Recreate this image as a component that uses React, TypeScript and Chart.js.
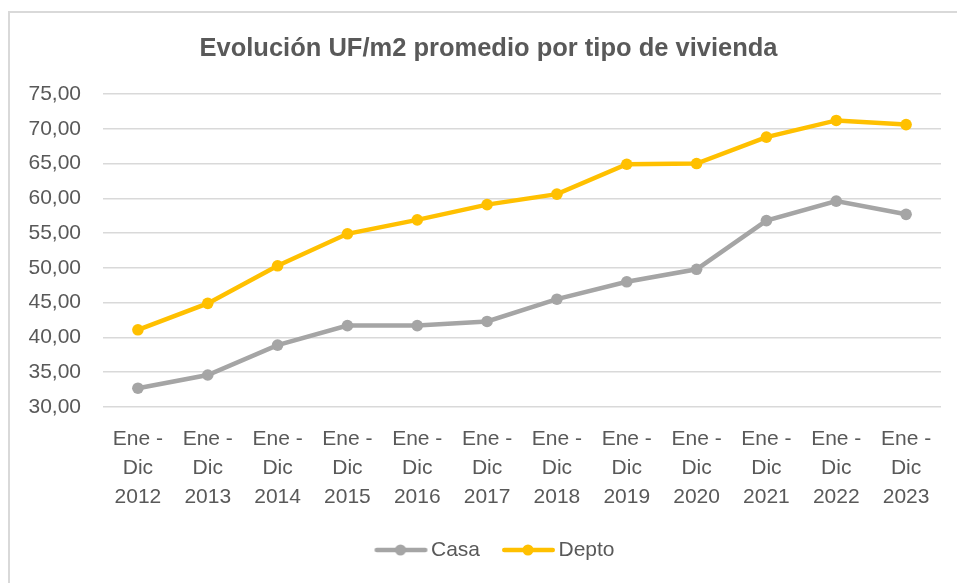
import React, { useEffect, useRef } from "react";
import { Chart, registerables } from "chart.js";

Chart.register(...registerables);

const categories: string[][] = [
  ["Ene -", "Dic", "2012"],
  ["Ene -", "Dic", "2013"],
  ["Ene -", "Dic", "2014"],
  ["Ene -", "Dic", "2015"],
  ["Ene -", "Dic", "2016"],
  ["Ene -", "Dic", "2017"],
  ["Ene -", "Dic", "2018"],
  ["Ene -", "Dic", "2019"],
  ["Ene -", "Dic", "2020"],
  ["Ene -", "Dic", "2021"],
  ["Ene -", "Dic", "2022"],
  ["Ene -", "Dic", "2023"],
];

const casa: number[] = [32.7, 34.6, 38.9, 41.7, 41.7, 42.3, 45.5, 48.0, 49.8, 56.8, 59.6, 57.7];
const depto: number[] = [41.1, 44.9, 50.3, 54.9, 56.9, 59.1, 60.6, 64.9, 65.0, 68.8, 71.2, 70.6];

const title = "Evolución UF/m2 promedio por tipo de vivienda";
const seriesNames = ["Casa", "Depto"];
const seriesColors = ["#a5a5a5", "#ffc000"];
const yMin = 30;
const yMax = 75;
const yStep = 5;

const TEXT = "#595959";
const FONT = "'Liberation Sans', Arial, sans-serif";

function legendImage(color: string): HTMLCanvasElement {
  const c = document.createElement("canvas");
  c.width = 62;
  c.height = 14;
  const ctx = c.getContext("2d")!;
  ctx.strokeStyle = color;
  ctx.lineWidth = 4.5;
  ctx.lineCap = "round";
  ctx.beginPath();
  ctx.moveTo(10.25, 7);
  ctx.lineTo(58.75, 7);
  ctx.stroke();
  ctx.fillStyle = color;
  ctx.beginPath();
  ctx.arc(34, 7, 5.5, 0, Math.PI * 2);
  ctx.fill();
  return c;
}

const boxShift = {
  id: "boxShift",
  afterLayout(chart: any) {
    if (chart.legend) {
      chart.legend.left += 24;
      chart.legend.right += 24;
    }
    if (chart.titleBlock) {
      chart.titleBlock.left += 18;
      chart.titleBlock.right += 18;
    }
  },
};

export default function App() {
  const ref = useRef<HTMLCanvasElement>(null);

  useEffect(() => {
    document.body.style.margin = "0";
    const imgs = seriesColors.map(legendImage);
    const chart = new Chart(ref.current!, {
      type: "line",
      data: {
        labels: categories,
        datasets: [
          {
            label: seriesNames[0],
            data: casa,
            borderColor: seriesColors[0],
            backgroundColor: seriesColors[0],
            borderWidth: 4.5,
            pointRadius: 5.8,
            pointHoverRadius: 5.8,
            pointBorderWidth: 0,
            pointStyle: "circle",
            tension: 0,
          },
          {
            label: seriesNames[1],
            data: depto,
            borderColor: seriesColors[1],
            backgroundColor: seriesColors[1],
            borderWidth: 4.5,
            pointRadius: 5.8,
            pointHoverRadius: 5.8,
            pointBorderWidth: 0,
            pointStyle: "circle",
            tension: 0,
          },
        ],
      },
      options: {
        responsive: false,
        animation: false,
        layout: { padding: { left: 0, right: 16, top: 0, bottom: 12.5 } },
        plugins: {
          title: {
            display: true,
            text: title,
            color: TEXT,
            font: { family: FONT, size: 25.5, weight: "bold", lineHeight: 1.2 },
            padding: { top: 33.7, bottom: 29.7 },
          },
          legend: {
            position: "bottom",
            labels: {
              color: TEXT,
              font: { family: FONT, size: 21 },
              usePointStyle: true,
              pointStyleWidth: 46,
              padding: 22,
              generateLabels: (ch: any) =>
                ch.data.datasets.map((ds: any, i: number) => ({
                  text: ds.label,
                  pointStyle: imgs[i],
                  fillStyle: seriesColors[i],
                  strokeStyle: seriesColors[i],
                  lineWidth: 0,
                  hidden: false,
                  datasetIndex: i,
                  fontColor: TEXT,
                })),
            },
          },
          tooltip: { enabled: false },
        },
        scales: {
          x: {
            offset: true,
            grid: { display: false, drawTicks: false },
            border: { display: false },
            ticks: {
              color: TEXT,
              font: { family: FONT, size: 21, lineHeight: "29px" },
              padding: 18,
              maxRotation: 0,
              autoSkip: false,
            },
            afterFit: (s: any) => {
              s.height = 110.5;
            },
          },
          y: {
            min: yMin,
            max: yMax,
            grid: { color: "#d9d9d9", lineWidth: 1.6, drawTicks: false },
            border: { display: false },
            ticks: {
              stepSize: yStep,
              color: TEXT,
              font: { family: FONT, size: 21 },
              padding: 22,
              callback: (v: any) => Number(v).toFixed(2).replace(".", ","),
            },
            afterFit: (s: any) => {
              s.width = 103;
            },
          },
        },
      },
      plugins: [boxShift],
    });
    return () => chart.destroy();
  }, []);

  return (
    <div style={{ position: "relative", width: 957, height: 583, overflow: "hidden", background: "#fff" }}>
      <div
        style={{
          position: "absolute",
          left: 8,
          top: 11,
          width: 1000,
          height: 700,
          borderLeft: "2.5px solid #d9d9d9",
          borderTop: "2.5px solid #d9d9d9",
        }}
      />
      <canvas
        ref={ref}
        width={957}
        height={583}
        style={{ position: "absolute", left: 0, top: 0, width: 957, height: 583 }}
      />
    </div>
  );
}
